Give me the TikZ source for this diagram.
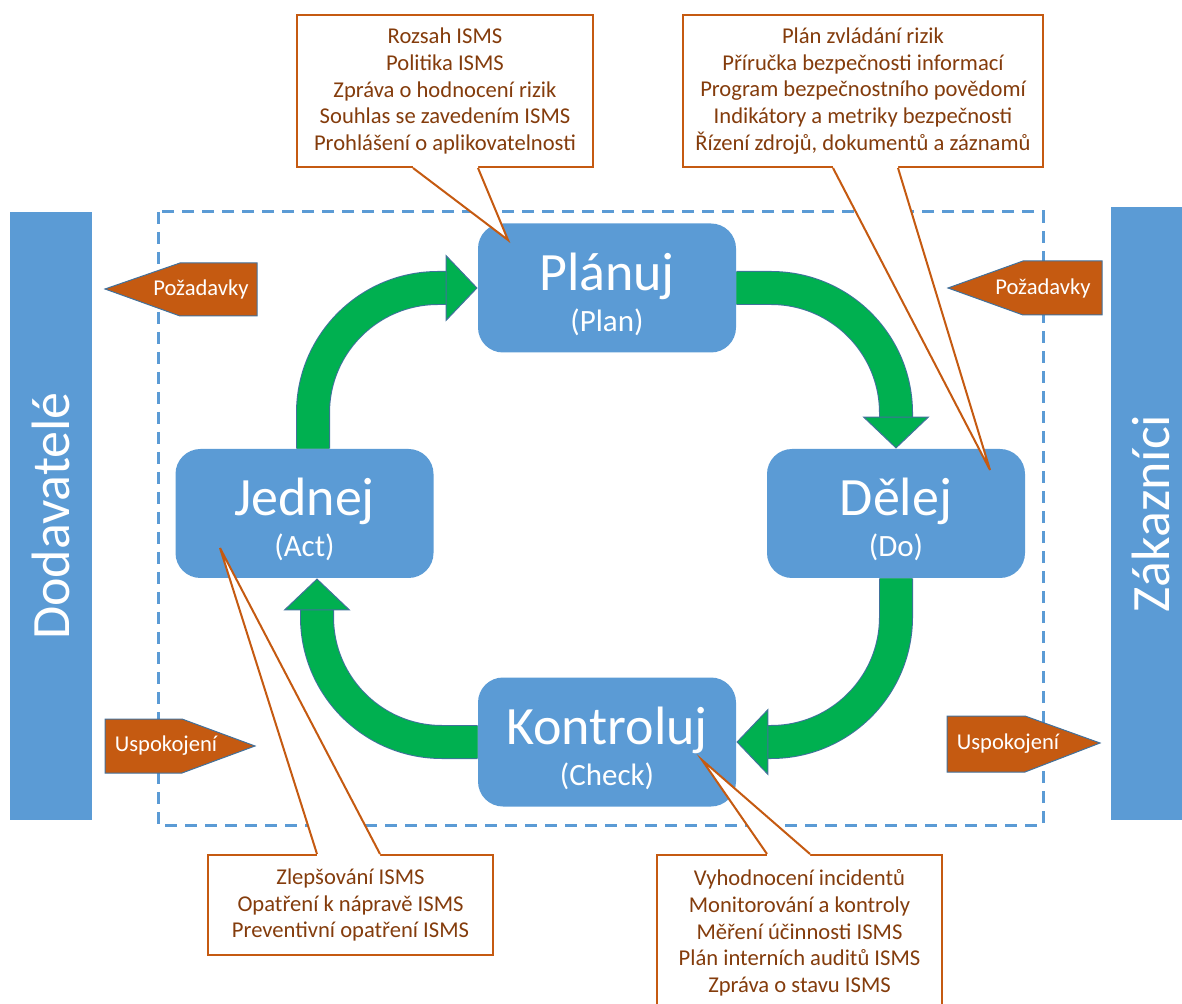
\documentclass[tikz,border=0pt]{standalone}
\usepackage{fontspec}
\setmainfont{Carlito}
\usetikzlibrary{arrows.meta,calc}

\definecolor{boxblue}{HTML}{5B9BD5}
\definecolor{cyclegreen}{HTML}{00B050}
\definecolor{edgeblue}{HTML}{41719C}
\definecolor{rust}{HTML}{C55A11}
\definecolor{notebrown}{HTML}{843C0C}

% curved block arrow of the PDCA cycle: outlined shaft with a filled head
\newcommand\cyclearrow[1]{%
  \draw[edgeblue, line width=17pt, rounded corners=62.5pt,
        -{Triangle[length=16pt,width=33.5pt,fill=cyclegreen,line width=0.5pt]}] #1;
  \draw[cyclegreen, line width=16pt, rounded corners=62.5pt, shorten >=16pt] #1;
}
% wedge of a callout: left base, right base, tip, shift into the box
\newcommand\calloutpointer[4]{%
  \fill[white] ($(#1)+(0,#4)$) -- (#1) -- (#3) -- (#2) -- ($(#2)+(0,#4)$) -- cycle;
  \draw[rust, line width=1pt, line join=miter] (#1) -- (#3) -- (#2);
}

\begin{document}
\begin{tikzpicture}[x=0.5pt,y=-0.5pt,
  phase/.style={fill=boxblue, rounded corners=12.5pt, minimum width=129pt,
                minimum height=64.5pt, inner sep=0pt},
  title/.style={text=white, font=\fontsize{27pt}{27pt}\selectfont, anchor=base, inner sep=0pt},
  subtitle/.style={text=white, font=\fontsize{15.5pt}{15.5pt}\selectfont, anchor=base, inner sep=0pt},
  side/.style={fill=boxblue, inner sep=0pt},
  sidetext/.style={text=white, font=\fontsize{27pt}{27pt}\selectfont, rotate=90, inner sep=0pt},
  note/.style={draw=rust, line width=1pt, fill=white, text=notebrown, align=center,
               font=\fontsize{11.3pt}{13.3pt}\selectfont, inner sep=0pt},
  tag/.style={fill=rust, draw=edgeblue, line width=0.5pt, line join=miter},
  tagtext/.style={text=white, font=\fontsize{11.3pt}{13pt}\selectfont, inner sep=0pt}
]
\useasboundingbox (0,0) rectangle (1182,1004);

% organisation boundary
\draw[boxblue, line width=1.5pt, dash pattern=on 6pt off 4pt] (158,212) rectangle (1043,825);

% suppliers and customers
\node[side, minimum width=41pt, minimum height=304pt] (suppliers) at (51,516) {};
\node[sidetext] (suppliersT) at (suppliers.center) {Dodavatelé};
\node[side, minimum width=39.5pt, minimum height=306.5pt] (customers) at (1150.5,513.5) {};
\node[sidetext] (customersT) at (customers.center) {Zákazníci};

% requirements and satisfaction tags
\draw[tag] (105,289) -- (180,263) -- (257,263) -- (257,316) -- (180,316) -- cycle;
\node[tagtext] (reqL) at (201,289) {Požadavky};
\draw[tag] (948,288) -- (1023,261) -- (1102,261) -- (1102,315) -- (1023,315) -- cycle;
\node[tagtext] (reqR) at (1043,288) {Požadavky};
\draw[tag] (105,719) -- (182,719) -- (255,746) -- (182,773) -- (105,773) -- cycle;
\node[tagtext] (satL) at (166,746) {Uspokojení};
\draw[tag] (947,716) -- (1025,716) -- (1100,743) -- (1025,772) -- (947,772) -- cycle;
\node[tagtext] (satR) at (1008,744) {Uspokojení};

% PDCA phases
\node[phase] (plan)  at (607,288)   {};
\node[phase] (do)    at (896,513.5) {};
\node[phase] (act)   at (304.5,513.5) {};
\node[phase] (check) at (607,742)   {};

\node[title]    (planT)  at ($(plan.north)+(0,67)$)   {Plánuj};
\node[subtitle] (planS)  at ($(plan.north)+(0,108)$)  {(Plan)};
\node[title]    (doT)    at ($(do.north)+(0,67)$)     {Dělej};
\node[subtitle] (doS)    at ($(do.north)+(0,108)$)    {(Do)};
\node[title]    (actT)   at ($(act.north)+(0,67)$)    {Jednej};
\node[subtitle] (actS)   at ($(act.north)+(0,108)$)   {(Act)};
\node[title]    (checkT) at ($(check.north)+(0,67)$)  {Kontroluj};
\node[subtitle] (checkS) at ($(check.north)+(0,108)$) {(Check)};

% cycle arrows
\cyclearrow{($(act.north)+(8.5,0)$) |- (plan.west)}
\cyclearrow{(plan.east) -| (do.north)}
\cyclearrow{(do.south) |- (check.east)}
\cyclearrow{(check.west) -| ($(act.south)+(12.5,0)$)}

% documents of each phase
\node[note, minimum width=148pt, minimum height=76pt] (notePlan) at (445,91)
  {Rozsah ISMS\\Politika ISMS\\Zpráva o hodnocení rizik\\Souhlas se zavedením ISMS\\Prohlášení o aplikovatelnosti};
\coordinate (notePlanL) at ($(notePlan.south)+(-32,0)$);
\coordinate (notePlanR) at ($(notePlan.south)+(33,0)$);
\coordinate (notePlanTip) at (508,240);
\calloutpointer{notePlanL}{notePlanR}{notePlanTip}{-4}

\node[note, minimum width=180pt, minimum height=76pt] (noteDo) at (863,91)
  {Plán zvládání rizik\\Příručka bezpečnosti informací\\Program bezpečnostního povědomí\\Indikátory a metriky bezpečnosti\\Řízení zdrojů, dokumentů a záznamů};
\coordinate (noteDoL) at ($(noteDo.south)+(-30,0)$);
\coordinate (noteDoR) at ($(noteDo.south)+(35,0)$);
\coordinate (noteDoTip) at (990,470);
\calloutpointer{noteDoL}{noteDoR}{noteDoTip}{-4}

\node[note, minimum width=142.5pt, minimum height=50pt] (noteAct) at (350.5,905)
  {Zlepšování ISMS\\Opatření k nápravě ISMS\\Preventivní opatření ISMS};
\coordinate (noteActL) at ($(noteAct.north)+(-33.5,0)$);
\coordinate (noteActR) at ($(noteAct.north)+(29.5,0)$);
\coordinate (noteActTip) at (220,548);
\calloutpointer{noteActL}{noteActR}{noteActTip}{4}

\node[note, minimum width=142.5pt, minimum height=78pt] (noteCheck) at (799.5,933)
  {Vyhodnocení incidentů\\Monitorování a kontroly\\Měření účinnosti ISMS\\Plán interních auditů ISMS\\Zpráva o stavu ISMS};
\coordinate (noteCheckL) at ($(noteCheck.north)+(-32.5,0)$);
\coordinate (noteCheckR) at ($(noteCheck.north)+(10.5,0)$);
\coordinate (noteCheckTip) at (702,760);
\calloutpointer{noteCheckL}{noteCheckR}{noteCheckTip}{4}
\end{tikzpicture}
\end{document}
